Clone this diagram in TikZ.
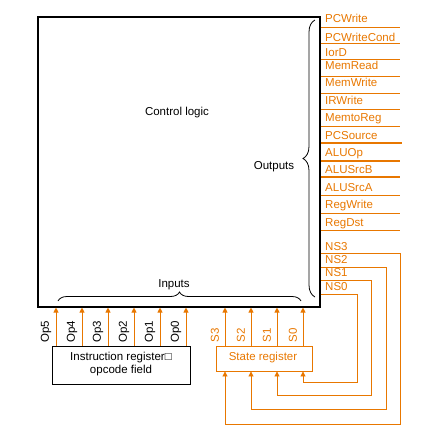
\documentclass[tikz,border=0pt]{standalone}
\usepackage{fontspec}
\setmainfont{Liberation Sans}
\usetikzlibrary{arrows.meta,decorations.pathreplacing}
\definecolor{ctlorange}{RGB}{232,119,0}

\begin{document}
\begin{tikzpicture}[x=1pt,y=-1pt,
    every node/.style={font=\fontsize{11.5}{13}\selectfont, inner sep=0pt},
    sig/.style={anchor=base west, text=ctlorange},
    wire/.style={draw=ctlorange, line width=0.9pt},
    buswire/.style={draw=ctlorange, line width=1.5pt},
    feed/.style={wire, -{Triangle[length=5pt,width=5pt]}},
    braced/.style={decorate, decoration={brace, amplitude=#1}, line width=0.8pt}]
  \useasboundingbox (0,0) rectangle (423,437);
  \node[draw, line width=1.1pt, minimum width=282, minimum height=290] (ctrl) at (179,162) {};
  \node[draw, line width=0.9pt, minimum width=138, minimum height=38] (instr) at (121,365) {};
  \node[draw=ctlorange, line width=0.9pt, minimum width=96, minimum height=25] (sr) at (264,358.5) {};
  \path
    (177,115) node[anchor=base] (logic){Control logic}
    (274,169) node[anchor=base] (outs){Outputs}
    (174,287) node[anchor=base] (ins){Inputs}
    (121,358) node (instrtxt){Instruction register□}
    (121,371) node (opfield){opcode field}
    (263,358) node[text=ctlorange] (srtxt){State register};
  % control outputs
  \path
    (325,22) node[sig] (pcwrite){PCWrite}
    (325,41) node[sig] (pcwcond){PCWriteCond}
    (325,56) node[sig] (iord){IorD}
    (325,69) node[sig] (memread){MemRead}
    (325,86) node[sig] (memwrite){MemWrite}
    (325,104) node[sig] (irwrite){IRWrite}
    (325,121) node[sig] (memtoreg){MemtoReg}
    (325,139) node[sig] (pcsource){PCSource}
    (325,156) node[sig] (aluop){ALUOp}
    (325,173) node[sig] (alusrcb){ALUSrcB}
    (325,191) node[sig] (alusrca){ALUSrcA}
    (325,208) node[sig] (regwrite){RegWrite}
    (325,226) node[sig] (regdst){RegDst}
    (325,250) node[sig] (ns3){NS3}
    (325,263) node[sig] (ns2){NS2}
    (325,276) node[sig] (ns1){NS1}
    (325,290) node[sig] (ns0){NS0};
  \path
    (400,27) coordinate (pcwrite-e)
    (400,43) coordinate (pcwcond-e)
    (400,59) coordinate (iord-e)
    (400,76) coordinate (memread-e)
    (400,93) coordinate (memwrite-e)
    (400,109) coordinate (irwrite-e)
    (400,126) coordinate (memtoreg-e)
    (402,143) coordinate (pcsource-e)
    (400,161) coordinate (aluop-e)
    (400,177) coordinate (alusrcb-e)
    (400,195) coordinate (alusrca-e)
    (400,213) coordinate (regwrite-e)
    (400,230) coordinate (regdst-e);
  \begin{scope}[wire]
    \draw (ctrl.east |- pcwrite-e) -- (pcwrite-e);
    \draw (ctrl.east |- pcwcond-e) -- (pcwcond-e);
    \draw (ctrl.east |- iord-e) -- (iord-e);
    \draw (ctrl.east |- memread-e) -- (memread-e);
    \draw (ctrl.east |- memwrite-e) -- (memwrite-e);
    \draw (ctrl.east |- irwrite-e) -- (irwrite-e);
    \draw (ctrl.east |- memtoreg-e) -- (memtoreg-e);
    \draw[buswire] (ctrl.east |- pcsource-e) -- (pcsource-e);
    \draw[buswire] (ctrl.east |- aluop-e) -- (aluop-e);
    \draw[buswire] (ctrl.east |- alusrcb-e) -- (alusrcb-e);
    \draw (ctrl.east |- alusrca-e) -- (alusrca-e);
    \draw (ctrl.east |- regwrite-e) -- (regwrite-e);
    \draw (ctrl.east |- regdst-e) -- (regdst-e);
  \end{scope}
  % next state back into the state register
  \draw[feed] (ctrl.east |- 0,253) -| (400,424) -| (sr.south -| 225,0);
  \draw[feed] (ctrl.east |- 0,267) -| (386,409) -| (sr.south -| 251,0);
  \draw[feed] (ctrl.east |- 0,280) -| (371,395) -| (sr.south -| 277,0);
  \draw[feed] (ctrl.east |- 0,294) -| (357,382) -| (sr.south -| 303,0);
  % inputs
  \path[every node/.append style={rotate=90}]
    (46,332) node (op5){Op5}
    (72,332) node (op4){Op4}
    (98,332) node (op3){Op3}
    (124,332) node (op2){Op2}
    (150,332) node (op1){Op1}
    (176,332) node (op0){Op0}
    (215,335) node[text=ctlorange] (s3){S3}
    (241,335) node[text=ctlorange] (s2){S2}
    (267,335) node[text=ctlorange] (s1){S1}
    (293,335) node[text=ctlorange] (s0){S0};
  \begin{scope}[feed]
    \draw (instr.north -| 56,0) -- (ctrl.south -| 56,0);
    \draw (instr.north -| 82,0) -- (ctrl.south -| 82,0);
    \draw (instr.north -| 108,0) -- (ctrl.south -| 108,0);
    \draw (instr.north -| 134,0) -- (ctrl.south -| 134,0);
    \draw (instr.north -| 160,0) -- (ctrl.south -| 160,0);
    \draw (instr.north -| 186,0) -- (ctrl.south -| 186,0);
    \draw (sr.north -| 225,0) -- (ctrl.south -| 225,0);
    \draw (sr.north -| 251,0) -- (ctrl.south -| 251,0);
    \draw (sr.north -| 277,0) -- (ctrl.south -| 277,0);
    \draw (sr.north -| 303,0) -- (ctrl.south -| 303,0);
  \end{scope}
  \draw[braced=12] (315,297) -- (315,20);
  \draw[braced=9] (58,301) -- (301,301);
\end{tikzpicture}
\end{document}
